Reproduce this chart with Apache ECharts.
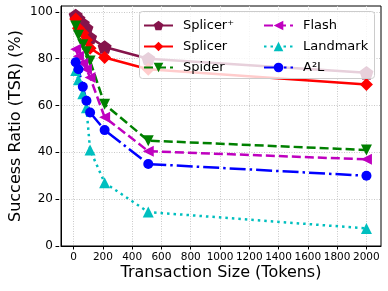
<!DOCTYPE html>
<html><head><meta charset="utf-8">
<script src="https://cdn.jsdelivr.net/npm/echarts@6/dist/echarts.min.js"></script>
<style>html,body{margin:0;padding:0;background:#fff}#c{width:388px;height:291px}</style>
</head><body><div id="c"></div>
<script>
// ---- data ----
const xSizes = [1, 20, 50, 75, 100, 200, 500, 2000];
const splicerPlus = [98.5, 97, 95, 93, 89, 85, 80, 74];
const splicer = [97, 93, 91, 88, 84.5, 80.5, 75.5, 69];
const spider = [94, 90, 86, 83, 79, 60.5, 45, 41];
const flash = [84, 81, 78, 75.5, 72, 55, 40.5, 37];
const landmark = [75, 71, 65, 59, 41, 27, 14.5, 7.5];
const a2l = [78.5, 75.5, 68, 62, 57, 49.5, 35, 30];
const seriesNames = ['Splicer\u207A', 'Splicer', 'Spider', 'Flash', 'Landmark', 'A\u00B2L'];
const xTickStep = 200, xTickMax = 2000;
const yTickStep = 20, yTickMax = 100;

// ---- layout ----
const W = 388, H = 291;
const gL = 59, gR = 7, gT = 6, gB = 45;
const xMin = -100, xMax = 2100, yMin = 0, yMax = 102.5;
const pw = W - gL - gR, ph = H - gT - gB;
const x0px = gL + (0 - xMin) / (xMax - xMin) * pw;
const x2000px = gL + (xTickMax - xMin) / (xMax - xMin) * pw;
const y100px = gT + ph - (yTickMax - yMin) / (yMax - yMin) * ph;
const FONT = 'DejaVu Sans';

const pentagon = 'path://M0,-1 L0.951,-0.309 L0.588,0.809 L-0.588,0.809 L-0.951,-0.309 Z';
const pair = arr => xSizes.map((x, i) => [x, arr[i]]);

function mk(name, data, color, symbol, size, dash, rot) {
  return {
    name, type: 'line', xAxisIndex: 0, yAxisIndex: 0, data: pair(data),
    symbol, symbolSize: size, symbolRotate: rot || 0, symbolKeepAspect: true,
    showAllSymbol: true, z: 2,
    lineStyle: { color, width: 2.5, type: dash },
    itemStyle: { color, borderColor: color, borderWidth: 0, opacity: 1 },
    emphasis: { disabled: true }, animation: false
  };
}

const series = [
  mk(seriesNames[0], splicerPlus, '#85144b', pentagon, 14, 'solid'),
  mk(seriesNames[1], splicer, '#ff0000', 'diamond', 13, 'solid'),
  mk(seriesNames[2], spider, '#008000', 'triangle', 11, [9, 4], 180),
  mk(seriesNames[3], flash, '#bf00bf', 'triangle', 11, [9, 4], 90),
  mk(seriesNames[4], landmark, '#00bfbf', 'triangle', 11, [2.5, 4]),
  mk(seriesNames[5], a2l, '#0000ff', 'circle', 10, [16, 4, 2.5, 4])
];

const chart = echarts.init(document.getElementById('c'), null, { renderer: 'canvas' });
const legendCommon = {
  orient: 'vertical', itemWidth: 29, itemHeight: 12, itemGap: 8, z: 6,
  backgroundColor: 'transparent', padding: 0, selectedMode: false,
  textStyle: { fontFamily: FONT, fontSize: 13, color: '#000', padding: [0, 0, 0, 5] }
};
const gridLine = { show: true, lineStyle: { color: '#c8c8c8', width: 1, type: [1, 1.5] } };
chart.setOption({
  animation: false,
  textStyle: { fontFamily: FONT },
  grid: [
    { left: gL, right: gR, top: gT, bottom: gB, show: true, borderColor: '#000', borderWidth: 1, backgroundColor: 'transparent' },
    { left: x0px, right: W - x2000px, top: gT, bottom: gB },
    { left: gL, right: gR, top: y100px, bottom: gB }
  ],
  xAxis: [
    { type: 'value', gridIndex: 0, min: xMin, max: xMax, z: 3,
      axisLine: { show: true, onZero: false, lineStyle: { color: '#000', width: 1 } },
      axisTick: { show: false }, axisLabel: { show: false }, splitLine: { show: false },
      name: 'Transaction Size (Tokens)', nameLocation: 'middle', nameGap: 19,
      nameTextStyle: { fontFamily: FONT, fontSize: 16, color: '#000' } },
    { type: 'value', gridIndex: 1, min: 0, max: xTickMax, interval: xTickStep,
      axisLine: { show: false, onZero: false },
      axisTick: { show: true, length: 3.5, lineStyle: { color: '#000', width: 1 } },
      axisLabel: { show: true, margin: 6, fontFamily: FONT, fontSize: 10.5, color: '#000',
        hideOverlap: false, showMinLabel: true, showMaxLabel: true, formatter: v => String(v) },
      splitLine: gridLine },
    { type: 'value', gridIndex: 2, min: xMin, max: xMax, show: false, axisLine: { onZero: false } }
  ],
  yAxis: [
    { type: 'value', gridIndex: 0, min: yMin, max: yMax, z: 3,
      axisLine: { show: true, onZero: false, lineStyle: { color: '#000', width: 1 } },
      axisTick: { show: false }, axisLabel: { show: false }, splitLine: { show: false },
      name: 'Success Ratio (TSR) (%)', nameLocation: 'middle', nameGap: 37,
      nameTextStyle: { fontFamily: FONT, fontSize: 16, color: '#000' } },
    { type: 'value', gridIndex: 1, min: yMin, max: yMax, show: false, axisLine: { onZero: false } },
    { type: 'value', gridIndex: 2, min: 0, max: yTickMax, interval: yTickStep,
      axisLine: { show: false, onZero: false },
      axisTick: { show: true, length: 3.5, lineStyle: { color: '#000', width: 1 } },
      axisLabel: { show: true, margin: 6, fontFamily: FONT, fontSize: 12, color: '#000',
        showMinLabel: true, showMaxLabel: true },
      splitLine: gridLine }
  ],
  graphic: [
    { type: 'rect', z: 5, shape: { x: 139.5, y: 11.5, width: 235, height: 67, r: 3 },
      style: { fill: 'rgba(255,255,255,0.8)', stroke: '#cccccc', lineWidth: 1 } }
  ],
  legend: [
    Object.assign({}, legendCommon, { left: 143, top: 19, data: seriesNames.slice(0, 3) }),
    Object.assign({}, legendCommon, { left: 263, top: 19, data: seriesNames.slice(3, 6) })
  ],
  series
});
</script></body></html>
